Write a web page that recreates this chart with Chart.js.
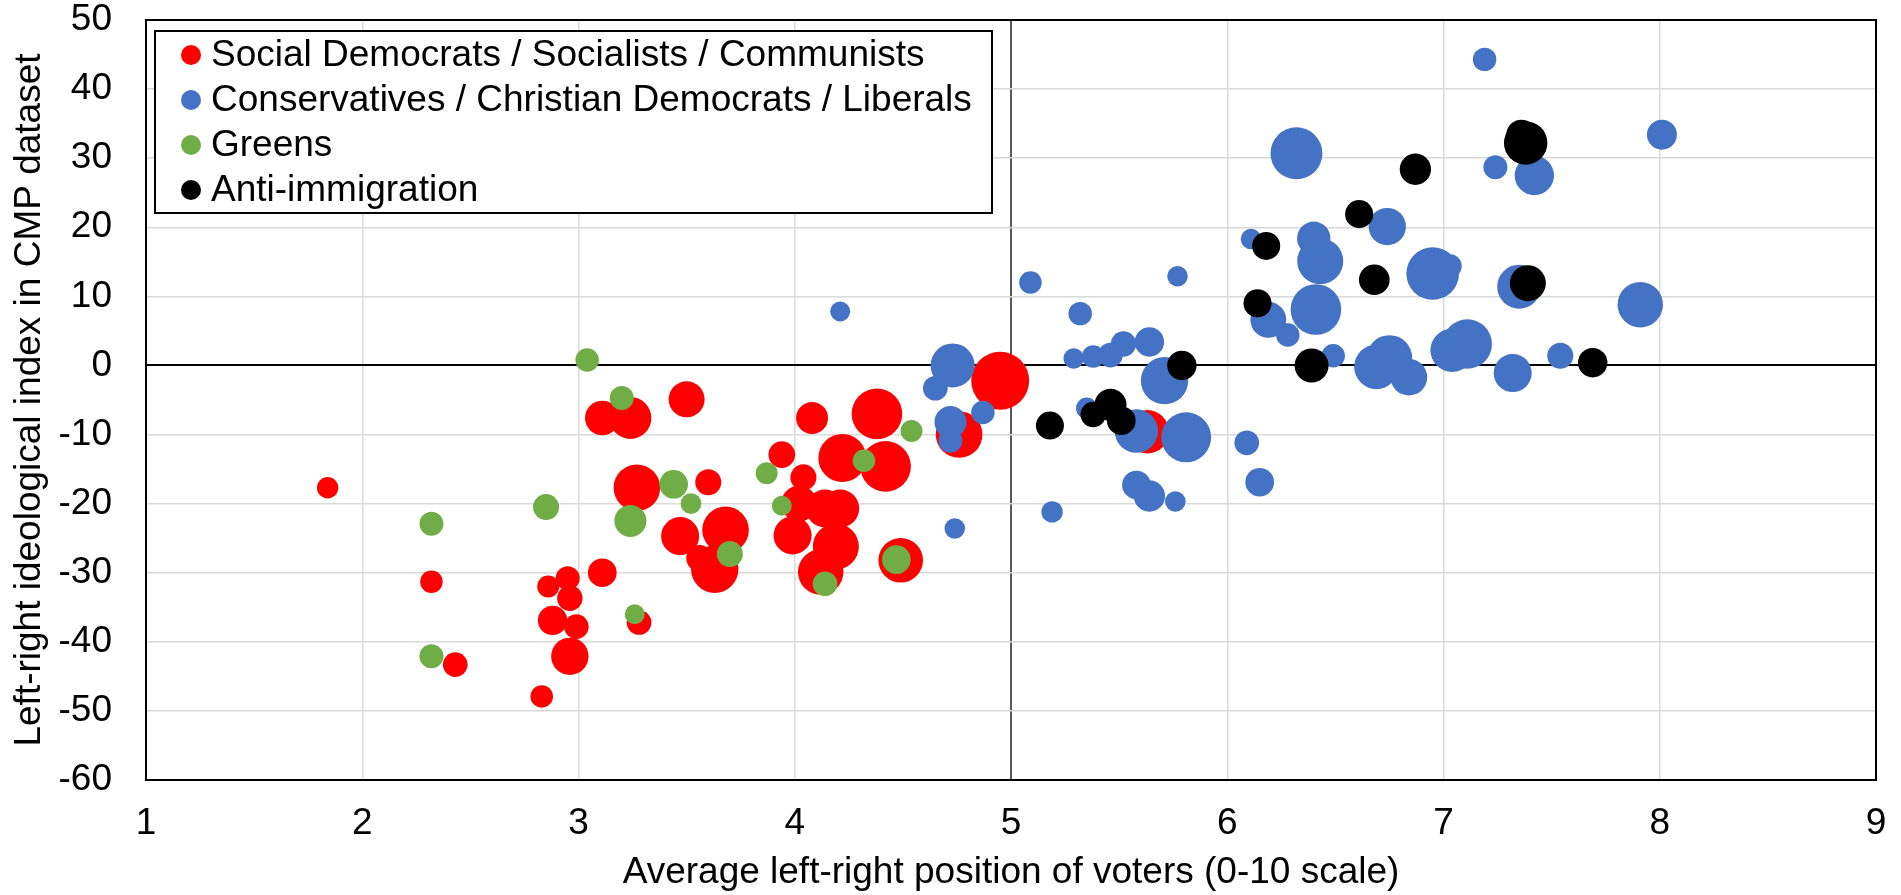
<!DOCTYPE html>
<html><head><meta charset="utf-8">
<script src="https://cdn.jsdelivr.net/npm/chart.js@4.4.0/dist/chart.umd.min.js"></script>
<style>html,body{margin:0;padding:0;background:#fff;overflow:hidden}</style>
</head><body>
<canvas id="c" width="1901" height="895" style="display:block;width:1901px;height:895px"></canvas>
<script>
// Social Democrats / Socialists / Communists
const socX = [1.84, 2.32, 2.43, 2.83, 2.86, 2.95, 2.96, 2.88, 2.99, 2.96, 3.11, 3.11, 3.24, 3.27, 3.28, 3.50, 3.60, 3.47, 3.68, 3.56, 3.63, 3.94, 4.08, 4.04, 3.99, 4.02, 4.14, 4.21, 4.19, 4.12, 4.38, 4.22, 4.42, 4.49, 4.76, 4.95, 5.63];
const socY = [-17.7, -31.3, -43.3, -47.9, -32.0, -30.8, -33.7, -36.9, -37.8, -42.1, -30.0, -7.6, -7.6, -17.7, -37.2, -4.9, -16.9, -24.7, -23.8, -27.9, -29.5, -12.9, -7.6, -16.2, -24.6, -20.0, -20.7, -20.7, -26.2, -29.9, -7.0, -13.4, -14.6, -28.2, -10.0, -2.2, -9.6];
const socSize = [5.4, 6.0, 7.2, 6.0, 5.7, 6.8, 7.6, 10.2, 7.2, 16.5, 9.7, 14.1, 20.8, 25.7, 7.2, 15.3, 8.0, 17.1, 25.7, 8.4, 26.5, 8.4, 12.1, 8.0, 17.1, 15.3, 17.1, 17.1, 25.0, 24.4, 30.3, 27.2, 30.3, 23.5, 25.7, 39.7, 22.3];

// Conservatives / Christian Democrats / Liberals
const conX = [4.21, 4.65, 4.73, 4.72, 4.72, 4.87, 4.74, 5.09, 5.19, 5.29, 5.32, 5.35, 5.38, 5.46, 5.52, 5.64, 5.58, 5.58, 5.64, 5.76, 5.71, 5.77, 5.81, 6.09, 6.15, 6.11, 6.19, 6.28, 6.32, 6.40, 6.43, 6.41, 6.49, 6.69, 6.75, 6.84, 6.74, 6.95, 7.03, 7.04, 7.11, 7.19, 7.24, 7.42, 7.35, 7.32, 7.54, 7.91, 8.01];
const conY = [7.8, -3.3, 0.0, -8.2, -10.9, -6.8, -23.6, 12.0, -21.2, 1.0, 7.5, -6.2, 1.3, 1.5, 3.1, 3.4, -9.5, -17.3, -18.9, -19.7, -2.2, 12.9, -10.4, -11.2, -16.9, 18.3, 6.6, 4.4, 30.7, 18.4, 15.1, 8.1, 1.4, -0.2, 1.1, -1.7, 20.1, 13.3, 14.4, 2.2, 3.1, 44.3, 28.7, 27.5, 11.4, -1.1, 1.4, 8.8, 33.4];
const conSize = [4.7, 7.2, 22.9, 12.1, 6.8, 6.5, 5.0, 6.0, 5.4, 5.0, 6.5, 5.4, 6.0, 7.2, 7.6, 10.2, 22.3, 9.7, 11.6, 5.0, 26.5, 5.0, 29.5, 7.2, 9.7, 5.0, 15.3, 6.5, 31.9, 13.2, 25.0, 30.3, 6.5, 23.5, 24.4, 15.8, 16.5, 32.7, 6.5, 22.3, 28.8, 6.5, 6.8, 18.3, 22.9, 17.1, 8.0, 24.4, 10.6];

// Greens
const grnX = [2.32, 2.32, 2.85, 3.04, 3.20, 3.24, 3.26, 3.44, 3.52, 3.70, 3.87, 3.94, 4.14, 4.32, 4.54, 4.47];
const grnY = [-22.9, -42.1, -20.5, 0.8, -4.7, -22.5, -36.0, -17.2, -20.0, -27.3, -15.6, -20.3, -31.6, -13.8, -9.5, -28.1];
const grnSize = [6.8, 6.8, 8.0, 6.5, 6.8, 12.1, 4.7, 9.7, 5.0, 8.0, 5.7, 4.7, 7.2, 6.0, 5.7, 9.7];

// Anti-immigration
const antiX = [5.18, 5.38, 5.46, 5.51, 5.79, 6.14, 6.18, 6.39, 6.61, 6.68, 6.87, 7.36, 7.38, 7.39, 7.69];
const antiY = [-8.7, -7.1, -5.7, -8.0, 0.0, 9.0, 17.3, 0.0, 21.9, 12.4, 28.4, 33.4, 32.2, 11.9, 0.4];
const antiSize = [9.3, 7.6, 12.1, 9.7, 10.2, 9.3, 9.3, 13.7, 9.3, 11.1, 11.6, 10.6, 22.3, 15.3, 10.2];

const seriesLabels = ['Social Democrats / Socialists / Communists', 'Conservatives / Christian Democrats / Liberals', 'Greens', 'Anti-immigration'];
const xTitle = 'Average left-right position of voters (0-10 scale)';
const yTitle = 'Left-right ideological index in CMP dataset';

const FONT = "'Liberation Sans', Arial, sans-serif";
const K = 4.6; // bubble radius scale (px per sqrt(size))
function pts(xs, ys, ss) { return xs.map((x, i) => ({ x: x, y: ys[i], r: K * Math.sqrt(ss[i]) })); }

const framePlugin = {
  id: 'frame',
  beforeDatasetsDraw(chart) {
    const { ctx, chartArea: a } = chart;
    ctx.save();
    ctx.strokeStyle = '#000';
    ctx.lineWidth = 2;
    ctx.strokeRect(a.left, a.top, a.right - a.left, a.bottom - a.top);
    ctx.restore();
  }
};

const boxLegend = {
  id: 'boxLegend',
  afterDraw(chart) {
    const ctx = chart.ctx;
    const x0 = 155, y0 = 31, w = 837, h = 182;
    ctx.save();
    ctx.fillStyle = '#fff';
    ctx.fillRect(x0, y0, w, h);
    ctx.strokeStyle = '#000';
    ctx.lineWidth = 2;
    ctx.strokeRect(x0, y0, w, h);
    ctx.font = '37px ' + FONT;
    ctx.textBaseline = 'middle';
    ctx.textAlign = 'left';
    chart.data.datasets.forEach((ds, i) => {
      const cy = 55 + i * 45;
      ctx.beginPath();
      ctx.arc(191, cy, 10, 0, Math.PI * 2);
      ctx.fillStyle = ds.backgroundColor;
      ctx.fill();
      ctx.fillStyle = '#000';
      ctx.fillText(ds.label, 211, cy + 1);
    });
    ctx.restore();
  }
};

new Chart(document.getElementById('c'), {
  type: 'bubble',
  data: {
    datasets: [
      { label: seriesLabels[0], data: pts(socX, socY, socSize), backgroundColor: '#FF0000', order: 4 },
      { label: seriesLabels[1], data: pts(conX, conY, conSize), backgroundColor: '#4472C4', order: 3 },
      { label: seriesLabels[2], data: pts(grnX, grnY, grnSize), backgroundColor: '#70AD47', order: 2 },
      { label: seriesLabels[3], data: pts(antiX, antiY, antiSize), backgroundColor: '#000000', order: 1 }
    ]
  },
  options: {
    responsive: false,
    animation: false,
    devicePixelRatio: 1,
    events: [],
    layout: { autoPadding: false, padding: { top: 20, right: 25, left: 0, bottom: 0 } },
    elements: { point: { borderWidth: 0, hoverBorderWidth: 0, hoverRadius: 0 } },
    plugins: { legend: { display: false }, tooltip: { enabled: false } },
    scales: {
      x: {
        type: 'linear', position: 'bottom', min: 1, max: 9,
        ticks: { stepSize: 1, color: '#000', font: { family: FONT, size: 37 }, padding: 22 },
        grid: {
          drawTicks: false,
          color: c => (c.tick && c.tick.value === 5) ? '#595959' : '#d9d9d9',
          lineWidth: c => (c.tick && c.tick.value === 5) ? 2 : 1.5
        },
        border: { display: true, color: '#000', width: 2 },
        title: { display: true, text: xTitle, color: '#000', font: { family: FONT, size: 37 }, padding: { top: 0, bottom: 0 } },
        afterFit(s) { s.height = 115; s.paddingLeft = 0; s.paddingRight = 0; }
      },
      y: {
        type: 'linear', position: 'left', min: -60, max: 50,
        ticks: { stepSize: 10, color: '#000', font: { family: FONT, size: 37 }, padding: 34 },
        grid: {
          drawTicks: false,
          color: c => (c.tick && c.tick.value === 0) ? '#000' : '#d9d9d9',
          lineWidth: c => (c.tick && c.tick.value === 0) ? 2 : 1.5
        },
        border: { display: true, color: '#000', width: 2 },
        title: { display: true, text: yTitle, color: '#000', font: { family: FONT, size: 37 }, padding: { top: 8, bottom: 0 } },
        afterFit(s) { s.width = 146; s.paddingTop = 0; s.paddingBottom = 0; }
      }
    }
  },
  plugins: [framePlugin, boxLegend]
});
</script>
</body></html>
